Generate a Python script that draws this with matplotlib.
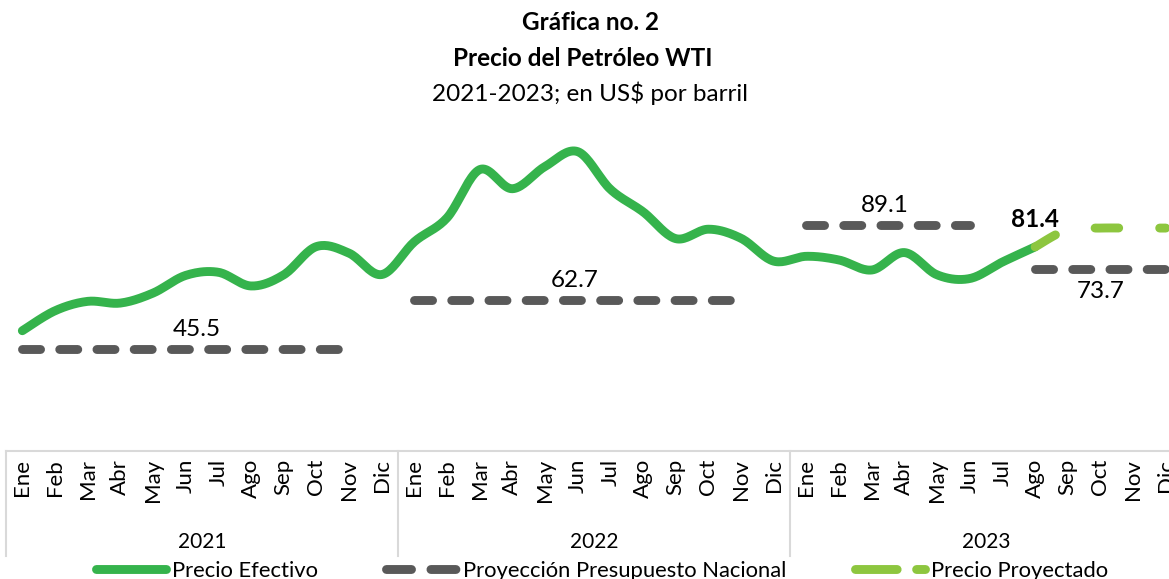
import numpy as np
import matplotlib.pyplot as plt
from matplotlib.lines import Line2D
import matplotlib.transforms as mtransforms

plt.rcParams['font.family'] = ['Lato', 'DejaVu Sans']
plt.rcParams['lines.scale_dashes'] = False

# meses y anios
meses = ["Ene", "Feb", "Mar", "Abr", "May", "Jun", "Jul", "Ago", "Sep", "Oct", "Nov", "Dic"]
anios = ["2021", "2022", "2023"]

# precio efectivo WTI (Ene 2021 - Ago 2023)
precio_efectivo = [52.0, 59.0, 62.3, 61.7, 65.2, 71.4, 72.5, 67.7, 71.6, 81.5, 79.2, 71.7,
                   83.2, 91.6, 108.5, 101.8, 109.6, 114.8, 101.6, 93.7, 84.3, 87.6, 84.4, 76.4,
                   78.1, 76.8, 73.3, 79.4, 71.6, 70.3, 76.1, 81.4]

# precio proyectado (Ago 2023 - Dic 2023)
precio_proyectado = [81.4, 87.5, 88.0, 88.0, 88.0]
inicio_proyectado = 31

# proyeccion presupuesto nacional: nivel, mes inicial, mes final (indices)
presupuesto_nivel = [45.5, 62.7, 89.1, 73.7]
presupuesto_desde = [0, 12, 24, 31]
presupuesto_hasta = [10, 22, 29, 35]
presupuesto_etiqueta_x = [5.35, 16.9, 26.4, 33.0]


def suavizar(x, y, pasos=20):
    # curva tipo excel (bezier con tangentes catmull-rom)
    x = np.asarray(x, dtype=float)
    y = np.asarray(y, dtype=float)
    n = len(x)
    xs, ys = [x[0]], [y[0]]
    t = np.linspace(0, 1, pasos + 1)[1:]
    for i in range(n - 1):
        x0, y0 = (x[i - 1], y[i - 1]) if i > 0 else (x[i], y[i])
        x3, y3 = (x[i + 2], y[i + 2]) if i + 2 < n else (x[i + 1], y[i + 1])
        c1x = x[i] + (x[i + 1] - x0) / 6
        c1y = y[i] + (y[i + 1] - y0) / 6
        c2x = x[i + 1] - (x3 - x[i]) / 6
        c2y = y[i + 1] - (y3 - y[i]) / 6
        bx = (1 - t) ** 3 * x[i] + 3 * (1 - t) ** 2 * t * c1x + 3 * (1 - t) * t ** 2 * c2x + t ** 3 * x[i + 1]
        by = (1 - t) ** 3 * y[i] + 3 * (1 - t) ** 2 * t * c1y + 3 * (1 - t) * t ** 2 * c2y + t ** 3 * y[i + 1]
        xs.extend(bx)
        ys.extend(by)
    return np.array(xs), np.array(ys)


verde = "#35B34C"
verde_claro = "#8DC63F"
gris = "#595959"
lw = 6.4

W, H = 1169, 579
fig = plt.figure(figsize=(W / 100, H / 100), dpi=100)
ax_left, ax_right = 6.0, 6.0 + 36 * 32.67
ax_top, ax_bottom = 108.3, 450.5
ax = fig.add_axes([ax_left / W, 1 - ax_bottom / H, (ax_right - ax_left) / W, (ax_bottom - ax_top) / H])
ax.set_xlim(-0.5, 35.5)
ax.set_ylim(10, 130)

# presupuesto
for nivel, a, b in zip(presupuesto_nivel, presupuesto_desde, presupuesto_hasta):
    ax.plot([a, b], [nivel, nivel], color=gris, lw=lw, dash_capstyle='round',
            linestyle=(0, (13.0, 13.8)))

# precio efectivo
xe, ye = suavizar(np.arange(len(precio_efectivo)), precio_efectivo)
ax.plot(xe, ye, color=verde, lw=lw, solid_capstyle='round', zorder=3)

# precio proyectado
xp, yp = suavizar(np.arange(len(precio_proyectado)) + inicio_proyectado, precio_proyectado)
ax.plot(xp, yp, color=verde_claro, lw=lw, linestyle=(0, (17.0, 29.5)),
        dash_capstyle='round', zorder=4, clip_on=False)

# etiquetas
for nivel, xl in zip(presupuesto_nivel, presupuesto_etiqueta_x):
    dy = -16 if nivel == 73.7 else 14
    ax.annotate(f"{nivel:.1f}", (xl, nivel), xytext=(0, dy), textcoords='offset points',
                ha='center', va='center', fontsize=17.5)
ax.annotate(f"{precio_efectivo[-1]:.1f}", (len(precio_efectivo) - 1, precio_efectivo[-1]),
            xytext=(0, 20), textcoords='offset points', ha='center', va='center',
            fontsize=17.5, fontweight='bold')

# eje x
ax.set_yticks([])
for s in ["left", "right", "top"]:
    ax.spines[s].set_visible(False)
ax.spines["bottom"].set_color("#D9D9D9")
ax.spines["bottom"].set_linewidth(1.5)
ax.set_xticks(range(36))
ax.set_xticklabels(meses * 3, rotation=90, fontsize=16, va='top')
ax.tick_params(axis='x', length=0, pad=6)

trans = mtransforms.blended_transform_factory(ax.transData, ax.transAxes)
for xs in [-0.5, 11.5, 23.5, 35.5]:
    ax.add_line(Line2D([xs, xs], [0, -105 / (ax_bottom - ax_top)], transform=trans,
                       color="#D9D9D9", lw=1.5, clip_on=False))
for i, an in enumerate(anios):
    ax.text(5.5 + 12 * i, -91 / (ax_bottom - ax_top), an, transform=trans,
            ha='center', va='center', fontsize=15)

# titulos
fig.text(590 / W, 1 - 22 / H, "Gráfica no. 2", ha='center', va='center', fontsize=17.5, fontweight='bold')
fig.text(583 / W, 1 - 58 / H, "Precio del Petróleo WTI", ha='center', va='center', fontsize=17.5, fontweight='bold')
fig.text(590 / W, 1 - 93 / H, "2021-2023; en US$ por barril", ha='center', va='center', fontsize=17.5)

# leyenda
handles = [
    Line2D([], [], color=verde, lw=lw, solid_capstyle='round'),
    Line2D([], [], color=gris, lw=lw, linestyle=(0, (18, 14)), dash_capstyle='round'),
    Line2D([], [], color=verde_claro, lw=lw, linestyle=(0, (30, 14)), dash_capstyle='round'),
]
fig.legend(handles, ["Precio Efectivo", "Proyección Presupuesto Nacional", "Precio Proyectado"],
           loc='center', bbox_to_anchor=(602 / W, 1 - 571 / H), ncol=3, frameon=False,
           fontsize=15.8, handlelength=3.2, handletextpad=0.3, columnspacing=3.1)

fig.savefig("out.png", dpi=100)
